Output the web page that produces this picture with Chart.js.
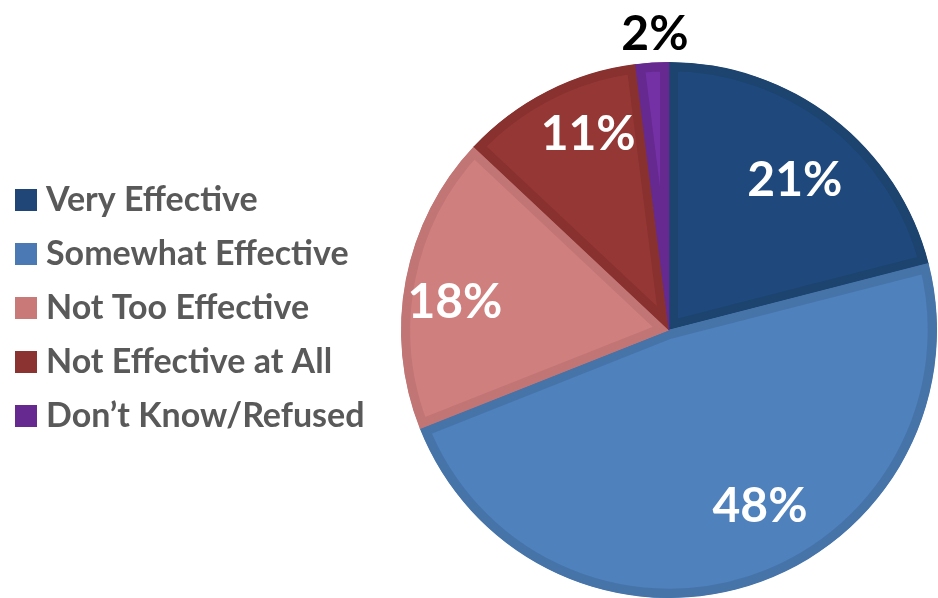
<!DOCTYPE html>
<html><head><meta charset="utf-8">
<script src="https://cdn.jsdelivr.net/npm/chart.js@4.4.1/dist/chart.umd.min.js"></script>
<style>html,body{margin:0;padding:0;background:#fff;overflow:hidden}#wrap{width:938px;height:598px;position:relative}</style>
</head><body><div id="wrap"><canvas id="c" width="938" height="598"></canvas></div>
<script>
const categories = ["Very Effective", "Somewhat Effective", "Not Too Effective", "Not Effective at All", "Don’t Know/Refused"];
const values = [21, 48, 18, 11, 2];
const valueLabels = ["21%", "48%", "18%", "11%", "2%"];
const fillColors = ["#1F497D", "#4F81BD", "#D07F7F", "#953735", "#7431A6"];
const borderColors = ["#1D446F", "#4674A9", "#C27575", "#88312F", "#65298F"];
const legendColors = ["#1F4677", "#4A79B3", "#C97A78", "#8B3330", "#66298F"];

// label placement tweaks (fraction of radius, angle shift in degrees)
const labelRadial = [0.735, 0.735, 0.806, 0.795, 1.112];
const labelShift = [1.9, -9.5, -3.1, 4.7, 0.9];

function makeBox(color) {
  const c = document.createElement('canvas');
  c.width = 22; c.height = 22;
  const g = c.getContext('2d');
  g.fillStyle = color; g.fillRect(0, 0, 22, 22);
  return c;
}

const legendLayoutPlugin = {
  id: 'legendLayout',
  afterInit(chart) {
    const lg = chart.legend;
    const orig = lg.fit;
    lg.fit = function () { orig.call(this); this.width = 400; };
  },
  afterLayout(chart) {
    const lg = chart.legend;
    lg.left = 3; lg.right = 400;
    lg.top = 18; lg.bottom = 598; lg.height = 580;
  }
};

const valueLabelPlugin = {
  id: 'valueLabels',
  afterDatasetsDraw(chart) {
    const ctx = chart.ctx;
    const meta = chart.getDatasetMeta(0);
    ctx.save();
    ctx.font = 'bold 48px Lato';
    ctx.textAlign = 'center';
    ctx.textBaseline = 'alphabetic';
    meta.data.forEach((arc, i) => {
      const p = arc.getProps(['x', 'y', 'startAngle', 'endAngle', 'outerRadius'], true);
      const mid = (p.startAngle + p.endAngle) / 2 + labelShift[i] * Math.PI / 180;
      const r = p.outerRadius * labelRadial[i];
      const x = p.x + Math.cos(mid) * r;
      const y = p.y + Math.sin(mid) * r;
      ctx.fillStyle = labelRadial[i] > 1 ? '#000000' : '#FFFFFF';
      ctx.fillText(valueLabels[i], x, y + 48 * 0.36);
    });
    ctx.restore();
  }
};

function draw() {
  new Chart(document.getElementById('c'), {
    type: 'pie',
    data: {
      labels: categories,
      datasets: [{
        data: values,
        backgroundColor: fillColors,
        borderColor: borderColors,
        borderWidth: 9,
        borderAlign: 'inner',
        hoverOffset: 0,
        offset: 0
      }]
    },
    options: {
      responsive: false,
      devicePixelRatio: 1,
      animation: false,
      events: [],
      radius: 268,
      layout: { padding: { top: 62, left: 0, right: 0, bottom: 0 } },
      plugins: {
        tooltip: { enabled: false },
        legend: {
          position: 'left',
          align: 'center',
          labels: {
            usePointStyle: true,
            pointStyleWidth: 6,
            boxHeight: 22,
            padding: 20,
            color: '#595959',
            font: { family: 'Lato', size: 34, weight: 'bold' },
            generateLabels(chart) {
              const items = Chart.overrides.pie.plugins.legend.labels.generateLabels(chart);
              items.forEach((it, i) => { it.pointStyle = makeBox(legendColors[i]); it.fontColor = '#595959'; });
              return items;
            }
          }
        }
      }
    },
    plugins: [legendLayoutPlugin, valueLabelPlugin]
  });
}
if (document.fonts && document.fonts.load) {
  Promise.all([document.fonts.load('bold 34px Lato'), document.fonts.load('bold 48px Lato')]).then(draw, draw);
} else { draw(); }
</script>
</body></html>
